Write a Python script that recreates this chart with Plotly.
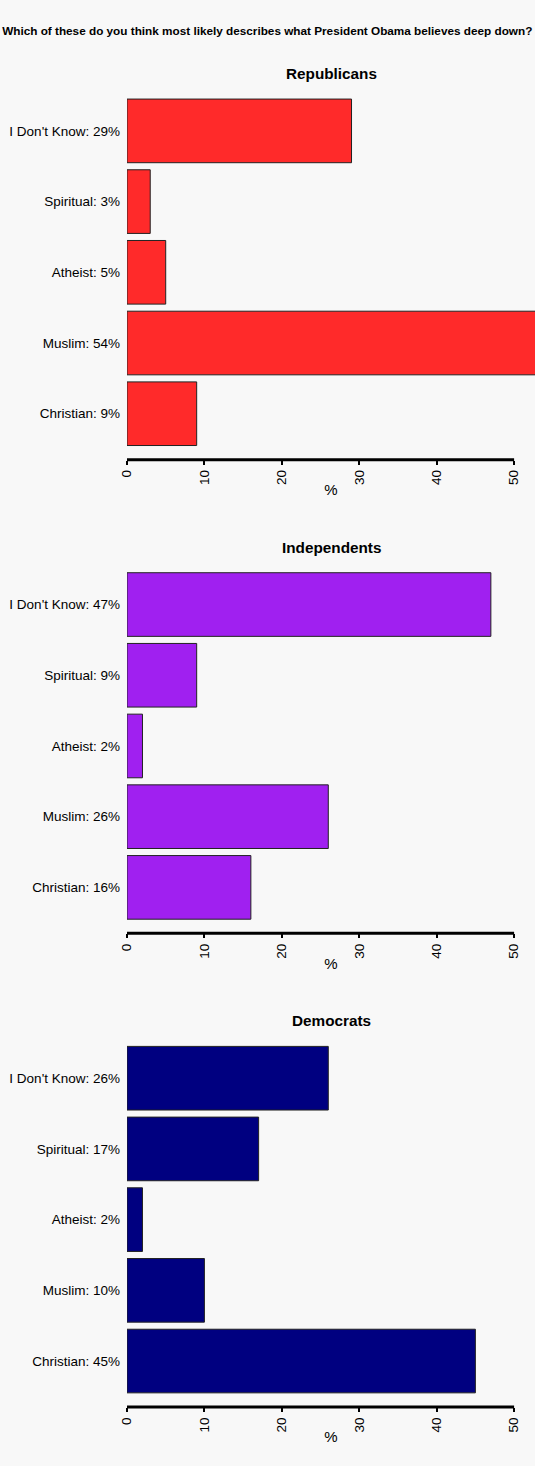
import plotly.graph_objects as go
from plotly.subplots import make_subplots

# survey answers, bottom to top as drawn
answers = ["Christian", "Muslim", "Atheist", "Spiritual", "I Don't Know"]
groups = ["Republicans", "Independents", "Democrats"]
republicans = [9, 54, 5, 3, 29]
independents = [16, 26, 2, 9, 47]
democrats = [45, 10, 2, 17, 26]
x_ticks = [0, 10, 20, 30, 40, 50]

title = ("Which of these do you think most likely describes what "
         "President Obama believes deep down?")
colors = {"Republicans": "#ff2a2a", "Independents": "#a020f0", "Democrats": "#000080"}
values = {"Republicans": republicans, "Independents": independents, "Democrats": democrats}

fig = make_subplots(rows=3, cols=1, subplot_titles=groups, vertical_spacing=0.0806)

for i, g in enumerate(groups, start=1):
    vals = values[g]
    labels = [f"{a}: {v}%" for a, v in zip(answers, vals)]
    fig.add_trace(go.Bar(x=vals, y=labels, orientation="h",
                         marker=dict(color=colors[g], line=dict(color="#222222", width=1)),
                         showlegend=False, hoverinfo="x+y"), row=i, col=1)
    fig.update_yaxes(range=[-0.65, 4.55], showline=False, ticks="", showgrid=False,
                     ticklabelstandoff=6, tickfont=dict(size=13.5), row=i, col=1)
    fig.update_xaxes(range=[0, 52.7], tickvals=x_ticks, tickangle=-90, ticks="outside",
                     ticklen=4, tickwidth=2, tickcolor="black", showline=False,
                     showgrid=False, zeroline=False, tickfont=dict(size=13.5),
                     title=dict(text="%", standoff=0, font=dict(size=15)),
                     row=i, col=1)
    # axis line only spanning the tick range, like base R axis()
    xref = "x" if i == 1 else f"x{i}"
    yref = "y domain" if i == 1 else f"y{i} domain"
    fig.add_shape(type="line", xref=xref, yref=yref, x0=x_ticks[0], x1=x_ticks[-1],
                  y0=0, y1=0, line=dict(color="black", width=3))

for ann in fig.layout.annotations:
    ann.font = dict(size=15.3, color="black", family="Liberation Sans, Arial", weight="bold")
    ann.yshift = 8

fig.update_layout(
    width=535, height=1466,
    margin=dict(l=127, r=0, t=92, b=59),
    paper_bgcolor="#f8f8f8", plot_bgcolor="#f8f8f8",
    font=dict(family="Liberation Sans, Arial", size=13, color="black"),
    bargap=0.1,
    title=dict(text=title, x=0.004, xanchor="left", y=0.979, yanchor="middle",
               font=dict(size=11.75, weight="bold", color="black")),
)

fig.write_html("out.html", config={"displayModeBar": False},
               post_script="document.body.style.margin='0';")
